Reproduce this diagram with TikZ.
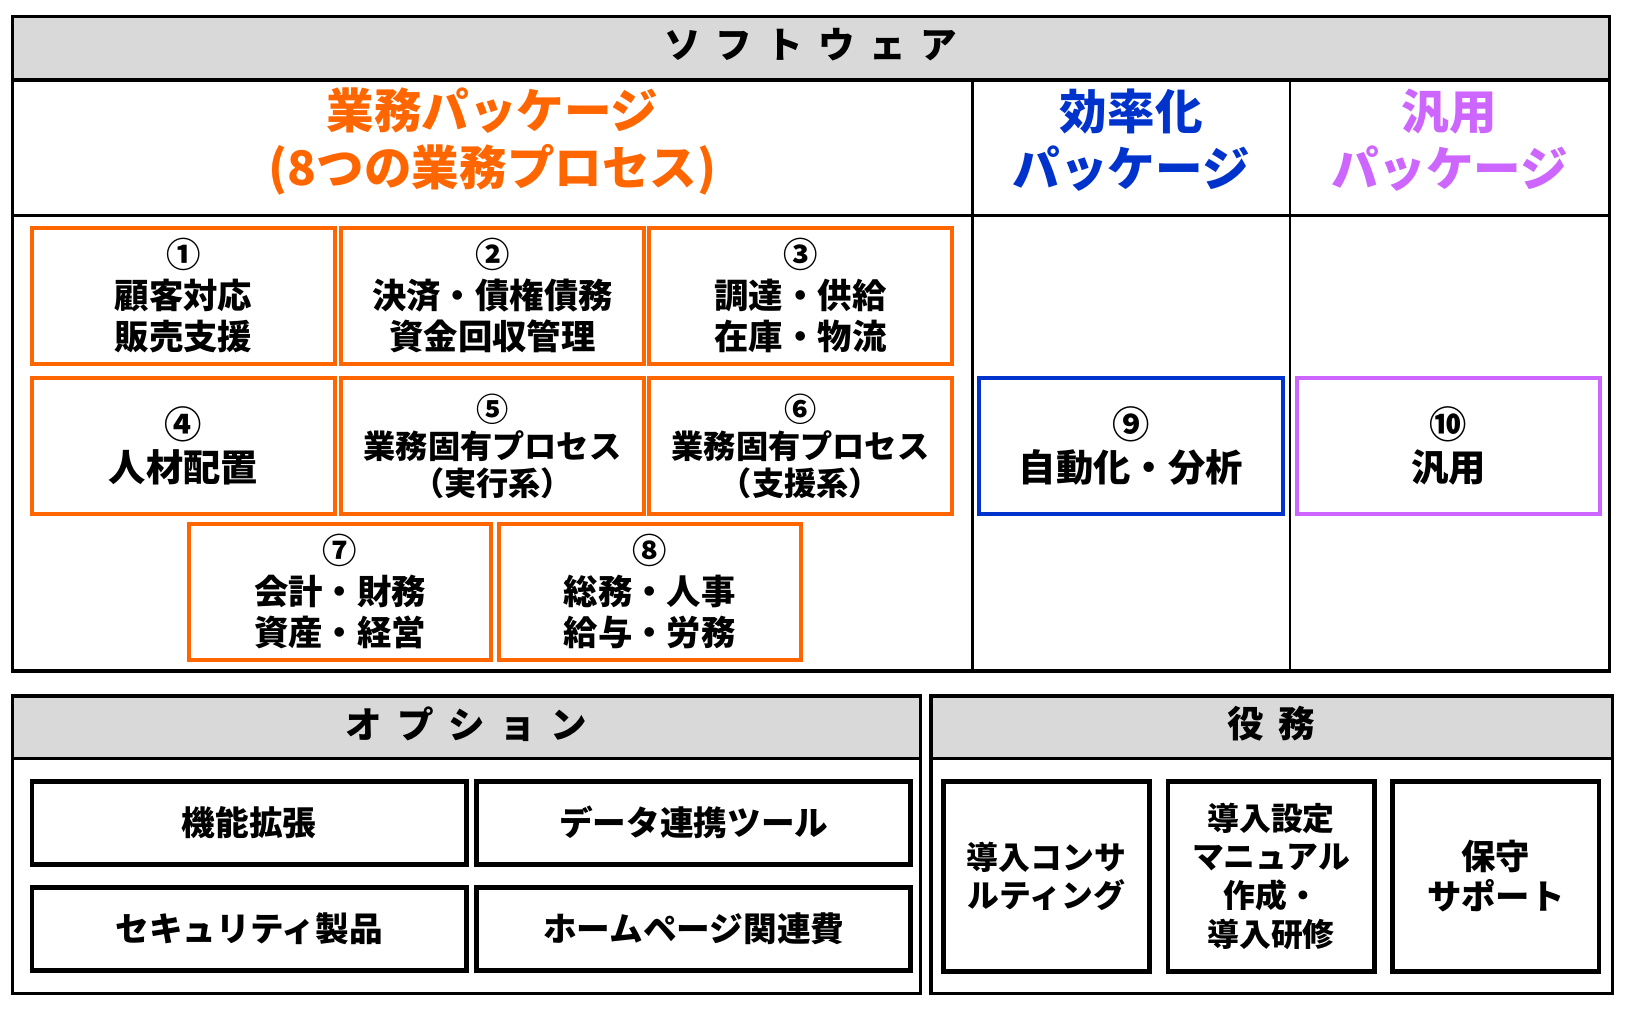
\documentclass[tikz,border=0pt]{standalone}
\usepackage{fontspec}
\setmainfont{Noto Sans CJK JP}
\usetikzlibrary{positioning}
\definecolor{O}{RGB}{255, 102, 0}
\definecolor{B}{RGB}{0, 51, 204}
\definecolor{P}{RGB}{204, 102, 255}
\definecolor{H}{RGB}{217, 217, 217}
\newcommand{\tgap}{\hspace{0.14cm}}
\tikzset{
  pbox/.style={draw, line width=1.1pt, align=center, inner sep=0pt,
    font=\fontsize{9.4}{11.2}\selectfont\bfseries},
  obox/.style={pbox, draw=O, minimum width=2.91cm, minimum height=1.31cm},
  wbox/.style={pbox, draw=black, line width=1.3pt, minimum width=4.17cm, minimum height=0.8cm,
    font=\fontsize{9.2}{11}\selectfont\bfseries},
  rbox/.style={pbox, draw=black, line width=1.3pt, minimum width=1.98cm, minimum height=1.83cm,
    font=\fontsize{8.7}{10.6}\selectfont\bfseries},
  head/.style={align=center, font=\fontsize{13}{15.6}\selectfont\bfseries},
  title/.style={font=\fontsize{10}{12}\selectfont\bfseries},
  big/.style={font=\fontsize{10.2}{11.8}\selectfont\bfseries},
  small/.style={font=\fontsize{8.8}{10.2}\selectfont\bfseries}
}
\begin{document}
\begin{tikzpicture}[x=0.01cm, y=-0.01cm]
  \useasboundingbox (0,0) rectangle (1567,971);
  % software
  \fill[color=H] (12,16) rectangle (1547,77);
  \draw[black, line width=0.9pt] (12,16) rectangle (1547,645);
  \draw[black, line width=0.9pt] (12,77) -- (1547,77);
  \draw[black, line width=0.7pt] (12,207) -- (1547,207);
  \draw[black, line width=0.7pt] (935,77) -- (935,645);
  \draw[black, line width=0.7pt] (1240,77) -- (1240,645);
  \node[title] (soft) at (779.5,43) {ソ\tgap フ\tgap ト\tgap ウ\tgap ェ\tgap ア};
  \node[head, text=O] (gyomu) at (473.5,136) {業務パッケージ\\(8つの業務プロセス)};
  \node[head, text=B] (koritsu) at (1087.5,135) {効率化\\パッケージ};
  \node[head, text=P] (hanyo) at (1393.5,135) {汎用\\パッケージ};

  \node[obox] (p1) at (176.5,284.5) {①\\顧客対応\\販売支援};
  \node[obox] (p2) at (473.5,284.5) {②\\決済・債権債務\\資金回収管理};
  \node[obox] (p3) at (769.5,284.5) {③\\調達・供給\\在庫・物流};
  \node[obox, big] (p4) at (176.5,429) {④\\人材配置};
  \node[obox, small] (p5) at (473.5,429) {⑤\\業務固有プロセス\\（実行系）};
  \node[obox, small] (p6) at (769.5,429) {⑥\\業務固有プロセス\\（支援系）};
  \node[obox, minimum width=2.9cm] (p7) at (327,569) {⑦\\会計・財務\\資産・経営};
  \node[obox, minimum width=2.9cm] (p8) at (624.5,569) {⑧\\総務・人事\\給与・労務};
  \node[obox, big, draw=B, minimum width=2.92cm] (p9) at (1087,428.5) {⑨\\自動化・分析};
  \node[obox, big, draw=P] (p10) at (1392.5,428.5) {⑩\\汎用};

  % option
  \fill[color=H] (12,669) rectangle (885,729);
  \draw[black, line width=0.9pt] (12,669) rectangle (885,955);
  \draw[black, line width=0.9pt] (12,729) -- (885,729);
  \node[title] (opt) at (448.5,696) {オ\tgap プ\tgap シ\tgap ョ\tgap ン};
  \node[wbox] (o1) at (239.5,791) {機能拡張};
  \node[wbox] (o2) at (667,791) {データ連携ツール};
  \node[wbox] (o3) at (239.5,893) {セキュリティ製品};
  \node[wbox] (o4) at (667,893) {ホームページ関連費};

  % service
  \fill[color=H] (895,669) rectangle (1550,729);
  \draw[black, line width=0.9pt] (895,669) rectangle (1550,955);
  \draw[black, line width=0.9pt] (895,729) -- (1550,729);
  \node[title] (eki) at (1222.5,696) {役\tgap 務};
  \node[rbox] (s1) at (1006,842.5) {導入コンサ\\ルティング};
  \node[rbox] (s2) at (1222,842.5) {導入設定\\マニュアル\\作成・\\導入研修};
  \node[rbox, font=\fontsize{9.4}{11}\selectfont\bfseries] (s3) at (1438,842.5) {保守\\サポート};
\end{tikzpicture}
\end{document}
